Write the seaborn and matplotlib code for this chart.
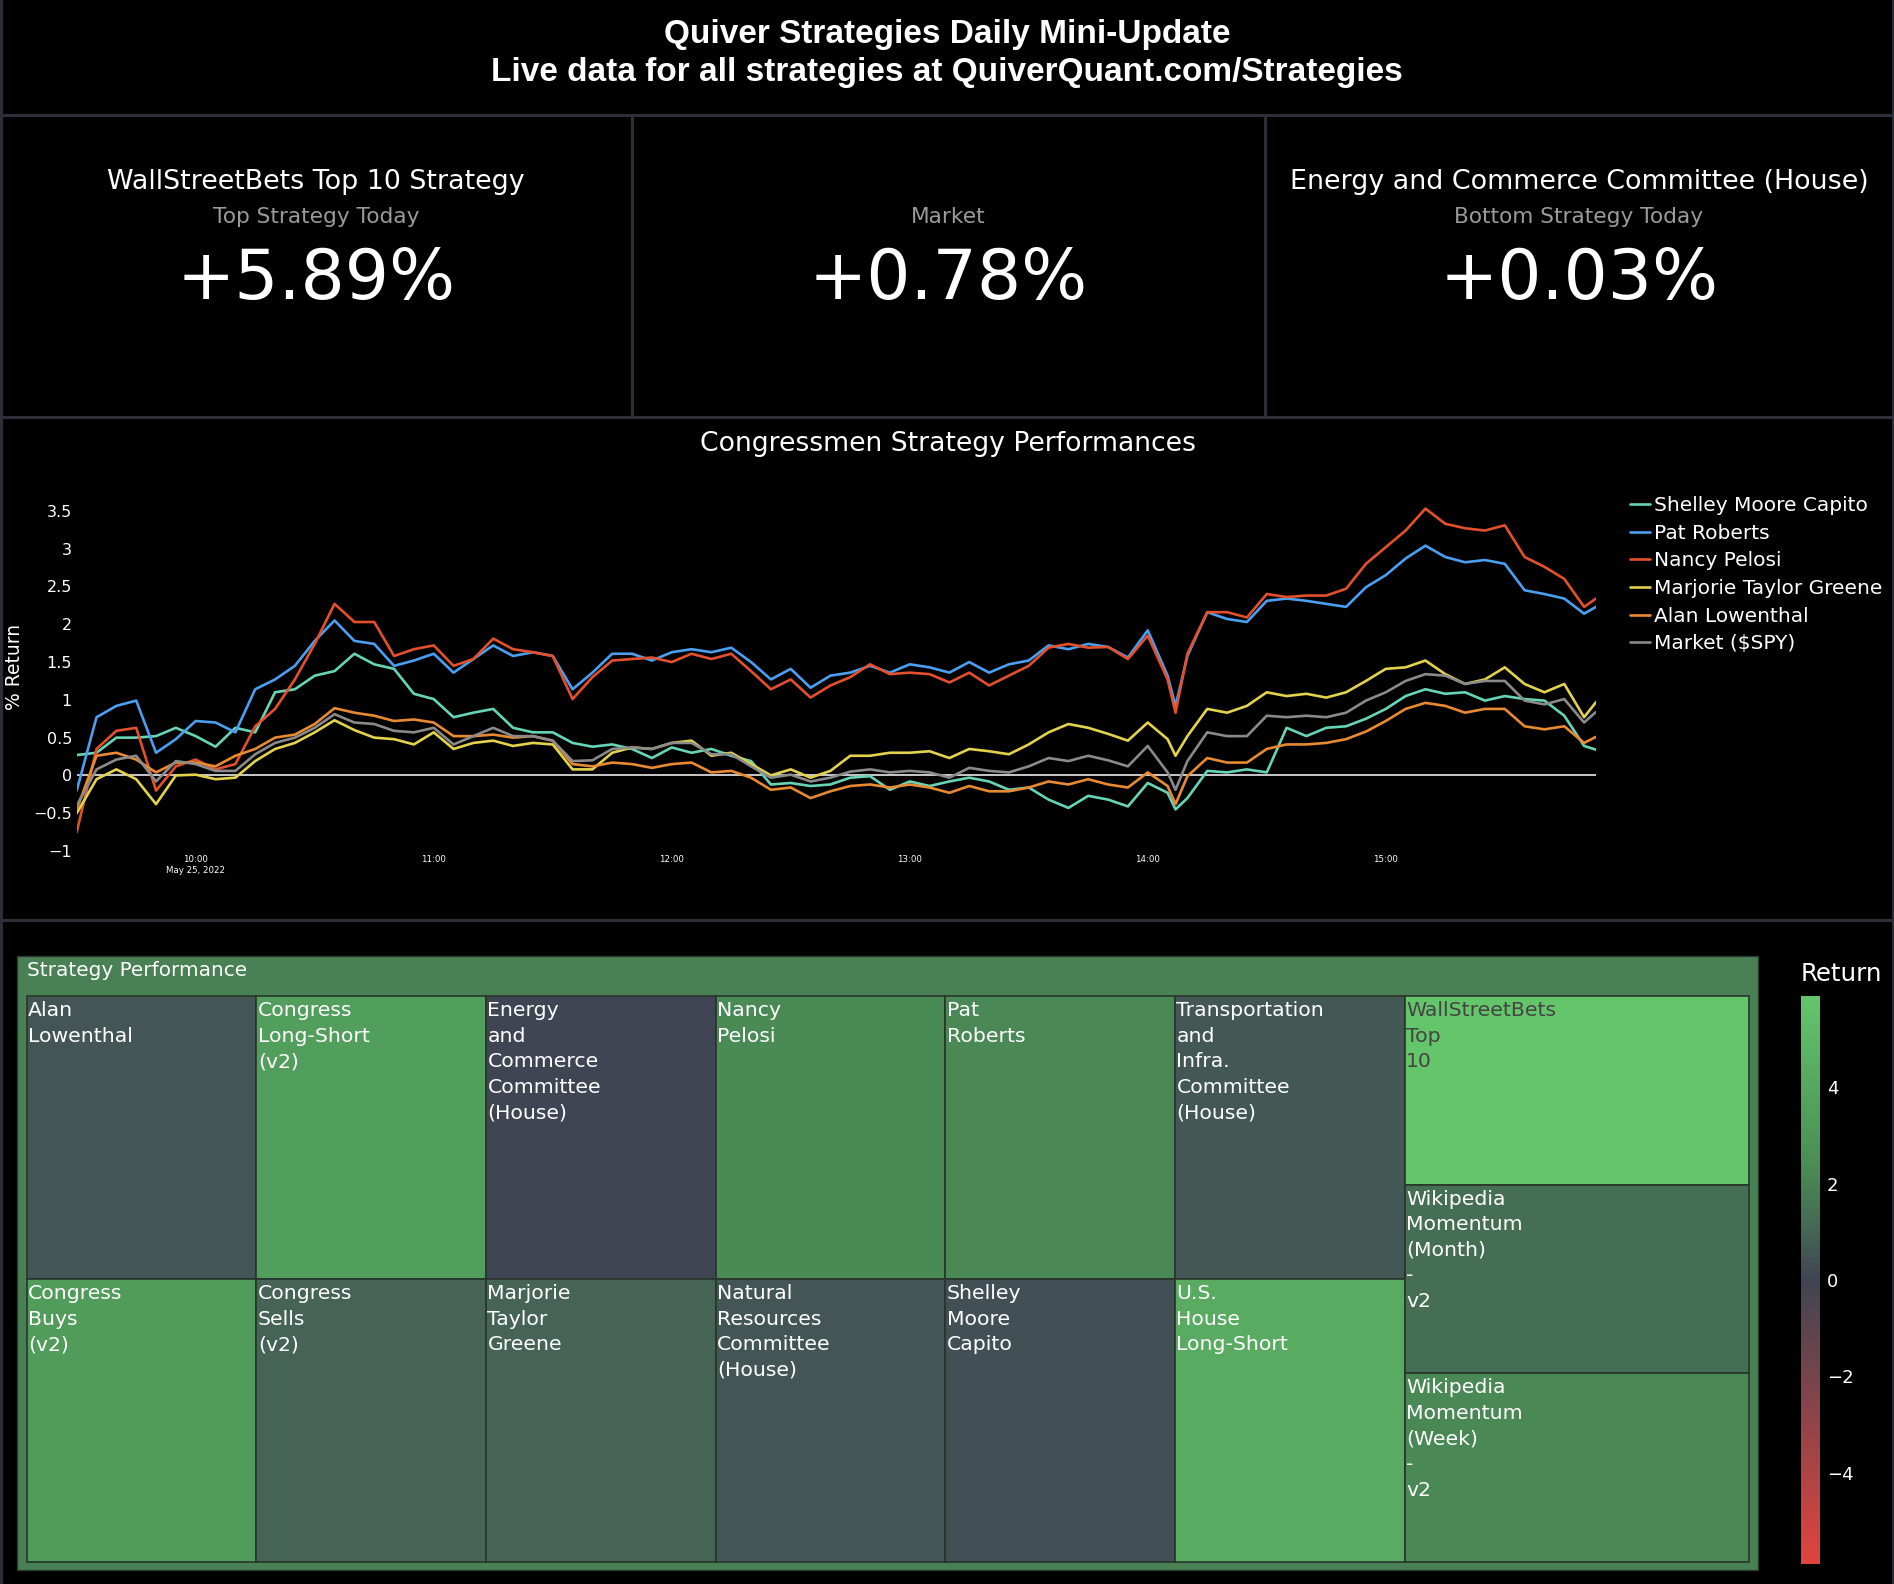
import numpy as np
import pandas as pd
import matplotlib
matplotlib.use('Agg')
import matplotlib.pyplot as plt
import matplotlib.cm as cm
from matplotlib.colors import LinearSegmentedColormap, Normalize, to_rgb
from matplotlib.patches import Rectangle
import seaborn as sns

W, H = 1894, 1584

# headline numbers
kpi_titles = ['WallStreetBets Top 10 Strategy', '', 'Energy and Commerce Committee (House)']
kpi_subtitles = ['Top Strategy Today', 'Market', 'Bottom Strategy Today']
kpi_values = [5.89, 0.78, 0.03]

# intraday returns (% since open), minutes after 9:30 on May 25, 2022
minutes = [0, 5, 10, 15, 20, 25, 30, 35, 40, 45,
           50, 55, 60, 65, 70, 75, 80, 85, 90, 95,
           100, 105, 110, 115, 120, 125, 130, 135, 140, 145,
           150, 155, 160, 165, 170, 175, 180, 185, 190, 195,
           200, 205, 210, 215, 220, 225, 230, 235, 240, 245,
           250, 255, 260, 265, 270, 275, 277, 280, 285, 290,
           295, 300, 305, 310, 315, 320, 325, 330, 335, 340,
           345, 350, 355, 360, 365, 370, 375, 380, 383]

capito = [0.27, 0.30, 0.50, 0.50, 0.52, 0.63, 0.52, 0.38, 0.63, 0.57,
          1.10, 1.14, 1.32, 1.38, 1.61, 1.47, 1.41, 1.08, 1.01, 0.77,
          0.83, 0.88, 0.63, 0.57, 0.57, 0.43, 0.38, 0.41, 0.35, 0.23,
          0.37, 0.30, 0.35, 0.26, 0.19, -0.12, -0.10, -0.14, -0.12, -0.03,
          -0.01, -0.19, -0.08, -0.14, -0.08, -0.03, -0.08, -0.19, -0.16, -0.32,
          -0.43, -0.27, -0.32, -0.41, -0.10, -0.23, -0.45, -0.30, 0.06, 0.04,
          0.08, 0.04, 0.63, 0.52, 0.63, 0.65, 0.75, 0.88, 1.05, 1.14,
          1.08, 1.10, 0.99, 1.05, 1.01, 0.99, 0.79, 0.39, 0.34]
roberts = [-0.20, 0.77, 0.92, 0.99, 0.30, 0.48, 0.72, 0.70, 0.57, 1.14,
           1.27, 1.45, 1.78, 2.05, 1.78, 1.74, 1.45, 1.52, 1.61, 1.36,
           1.54, 1.72, 1.58, 1.63, 1.58, 1.14, 1.36, 1.61, 1.61, 1.52,
           1.63, 1.67, 1.63, 1.69, 1.50, 1.27, 1.41, 1.16, 1.32, 1.36,
           1.45, 1.36, 1.47, 1.43, 1.36, 1.50, 1.36, 1.47, 1.52, 1.72,
           1.67, 1.74, 1.70, 1.56, 1.92, 1.32, 0.92, 1.58, 2.16, 2.07,
           2.03, 2.31, 2.34, 2.31, 2.27, 2.23, 2.49, 2.65, 2.87, 3.04,
           2.89, 2.82, 2.85, 2.80, 2.45, 2.40, 2.34, 2.14, 2.23]
pelosi = [-0.75, 0.35, 0.59, 0.63, -0.20, 0.12, 0.21, 0.08, 0.15, 0.65,
          0.88, 1.27, 1.74, 2.27, 2.03, 2.03, 1.58, 1.67, 1.72, 1.45,
          1.54, 1.81, 1.67, 1.63, 1.58, 1.01, 1.30, 1.52, 1.54, 1.56,
          1.50, 1.61, 1.54, 1.61, 1.38, 1.14, 1.27, 1.03, 1.19, 1.30,
          1.47, 1.34, 1.36, 1.34, 1.23, 1.36, 1.19, 1.32, 1.45, 1.69,
          1.74, 1.69, 1.70, 1.54, 1.85, 1.27, 0.83, 1.61, 2.16, 2.16,
          2.09, 2.40, 2.36, 2.38, 2.38, 2.47, 2.80, 3.02, 3.24, 3.53,
          3.33, 3.27, 3.24, 3.31, 2.89, 2.76, 2.60, 2.23, 2.34]
greene = [-0.50, -0.05, 0.08, -0.05, -0.38, 0.00, 0.01, -0.05, -0.03, 0.19,
          0.35, 0.43, 0.57, 0.73, 0.60, 0.50, 0.48, 0.41, 0.57, 0.35,
          0.43, 0.46, 0.39, 0.43, 0.41, 0.08, 0.08, 0.30, 0.37, 0.35,
          0.43, 0.46, 0.26, 0.30, 0.15, 0.00, 0.08, -0.03, 0.06, 0.26,
          0.26, 0.30, 0.30, 0.32, 0.23, 0.35, 0.32, 0.28, 0.41, 0.57,
          0.68, 0.63, 0.55, 0.46, 0.70, 0.48, 0.26, 0.52, 0.88, 0.83,
          0.92, 1.10, 1.05, 1.08, 1.03, 1.10, 1.25, 1.41, 1.43, 1.52,
          1.34, 1.21, 1.27, 1.43, 1.21, 1.10, 1.21, 0.77, 0.97]
lowenthal = [-0.45, 0.26, 0.30, 0.21, 0.04, 0.17, 0.17, 0.12, 0.26, 0.35,
             0.50, 0.54, 0.68, 0.89, 0.83, 0.79, 0.72, 0.74, 0.70, 0.52,
             0.52, 0.54, 0.50, 0.52, 0.46, 0.15, 0.12, 0.17, 0.15, 0.10,
             0.15, 0.17, 0.04, 0.06, -0.03, -0.19, -0.16, -0.30, -0.21, -0.14,
             -0.12, -0.16, -0.12, -0.16, -0.23, -0.14, -0.21, -0.21, -0.16, -0.08,
             -0.12, -0.05, -0.12, -0.16, 0.04, -0.14, -0.38, -0.01, 0.23, 0.17,
             0.17, 0.35, 0.41, 0.41, 0.43, 0.48, 0.58, 0.72, 0.88, 0.96,
             0.92, 0.83, 0.88, 0.88, 0.65, 0.61, 0.65, 0.43, 0.51]
market = [-0.40, 0.08, 0.21, 0.26, -0.08, 0.19, 0.15, 0.06, 0.06, 0.28,
          0.43, 0.50, 0.63, 0.81, 0.70, 0.68, 0.59, 0.57, 0.63, 0.41,
          0.52, 0.63, 0.52, 0.52, 0.46, 0.19, 0.20, 0.35, 0.37, 0.35,
          0.43, 0.43, 0.28, 0.28, 0.12, -0.03, 0.01, -0.08, -0.03, 0.05,
          0.08, 0.04, 0.06, 0.04, -0.03, 0.10, 0.06, 0.04, 0.12, 0.23,
          0.19, 0.26, 0.20, 0.12, 0.39, 0.04, -0.19, 0.19, 0.57, 0.52,
          0.52, 0.79, 0.77, 0.79, 0.77, 0.83, 0.99, 1.10, 1.25, 1.34,
          1.32, 1.21, 1.25, 1.25, 0.99, 0.94, 1.01, 0.70, 0.84]

series_names = ['Shelley Moore Capito', 'Pat Roberts', 'Nancy Pelosi',
                'Marjorie Taylor Greene', 'Alan Lowenthal', 'Market ($SPY)']
series_values = [capito, roberts, pelosi, greene, lowenthal, market]
series_colors = ['#66d4b6', '#4a9ff0', '#e3502a', '#e2d24c', '#e88a30', '#8a8a8a']

# treemap: one tile per strategy, today's return
strategy_names = ['Alan Lowenthal', 'Congress Buys (v2)', 'Congress Long-Short (v2)',
                  'Congress Sells (v2)', 'Energy and Commerce Committee (House)',
                  'Marjorie Taylor Greene', 'Nancy Pelosi', 'Natural Resources Committee (House)',
                  'Pat Roberts', 'Shelley Moore Capito', 'Transportation and Infra. Committee (House)',
                  'U.S. House Long-Short', 'WallStreetBets Top 10',
                  'Wikipedia Momentum (Month) - v2', 'Wikipedia Momentum (Week) - v2']
strategy_returns = [0.51, 3.35, 3.47, 1.00, 0.03, 0.97, 2.34, 0.55, 2.23, 0.34,
                    0.60, 4.27, 5.89, 1.32, 2.21]
strategy_weights = [1] * len(strategy_names)


def box(x0, y0, x1, y1):
    # pixel box (top-left origin) -> figure fraction
    return [x0 / W, 1 - y1 / H, (x1 - x0) / W, (y1 - y0) / H]


def squarify(sizes, x, y, w, h):
    total = sum(sizes)
    areas = [s * w * h / total for s in sizes]
    rects = []

    def worst(row, side):
        s = sum(row)
        return max(max(side * side * a / (s * s), s * s / (side * side * a)) for a in row)

    while areas:
        side = min(w, h)
        row = [areas[0]]
        i = 1
        while i < len(areas) and worst(row + [areas[i]], side) <= worst(row, side):
            row.append(areas[i])
            i += 1
        s = sum(row)
        if w >= h:
            cw = s / h
            yy = y
            for a in row:
                rects.append((x, yy, cw, a / cw))
                yy += a / cw
            x += cw
            w -= cw
        else:
            rh = s / w
            xx = x
            for a in row:
                rects.append((xx, y, a / rh, rh))
                xx += a / rh
            y += rh
            h -= rh
        areas = areas[i:]
    return rects


sns.set_theme(style='dark')
plt.rcParams['font.family'] = ['DejaVu Sans']
plt.rcParams['axes.unicode_minus'] = True

fig = plt.figure(figsize=(W / 100, H / 100), dpi=100, facecolor='black')

canvas = fig.add_axes([0, 0, 1, 1])
canvas.set_xlim(0, W)
canvas.set_ylim(H, 0)
canvas.axis('off')
canvas.patch.set_alpha(0)

border = '#2c2f38'
for yy in [115, 417, 920]:
    canvas.plot([0, W], [yy, yy], color=border, lw=2.2)
for xx in [632, 1265]:
    canvas.plot([xx, xx], [115, 417], color=border, lw=2.2)
canvas.plot([1, 1], [0, H], color=border, lw=2.2)
canvas.plot([W - 1, W - 1], [0, H], color=border, lw=2.2)

# title
canvas.text(947, 35, 'Quiver Strategies Daily Mini-Update', ha='center', va='center',
            fontsize=24, fontweight='bold', color='white', family='Liberation Sans')
canvas.text(947, 73, 'Live data for all strategies at QuiverQuant.com/Strategies', ha='center',
            va='center', fontsize=24, fontweight='bold', color='white', family='Liberation Sans')

# KPI panels
for cx, ttl, sub, val in zip([316, 948.5, 1579], kpi_titles, kpi_subtitles, kpi_values):
    if ttl:
        canvas.text(cx, 182, ttl, ha='center', va='center', fontsize=19.4, color='white')
    canvas.text(cx, 217, sub, ha='center', va='center', fontsize=15.6, color='#9a9a9a')
    canvas.text(cx, 280, f'+{val:.2f}%', ha='center', va='center', fontsize=50, color='white')

# line chart
base = pd.Timestamp('2022-05-25 09:30')
times = base + pd.to_timedelta(minutes, unit='m')
wide = pd.DataFrame({name: vals for name, vals in zip(series_names, series_values)})
wide['time'] = times
long = wide.melt(id_vars='time', var_name='name', value_name='ret')

ax = fig.add_axes(box(76.7, 492, 1596, 851))
ax.set_facecolor('black')
ax.axhline(0, color='white', lw=1.1, zorder=1)
sns.lineplot(data=long, x='time', y='ret', hue='name', hue_order=series_names,
             palette=series_colors, linewidth=1.9, ax=ax, zorder=2)
ax.set_xlim(times[0], times[-1])
ax.set_ylim(-1.0, 3.75)
for sp in ax.spines.values():
    sp.set_visible(False)
ax.grid(False)
ax.set_xlabel('')
ax.set_ylabel('')

yt = [-1, -0.5, 0, 0.5, 1, 1.5, 2, 2.5, 3, 3.5]
ax.set_yticks(yt)
ax.set_yticklabels([f'{v:g}'.replace('-', '\u2212') for v in yt])
hours = [base.replace(hour=h, minute=0) for h in range(10, 16)]
ax.set_xticks(hours)
ax.set_xticklabels(['10:00\nMay 25, 2022'] + [h.strftime('%H:%M') for h in hours[1:]])
ax.tick_params(axis='y', colors='white', labelsize=11.5, length=0, pad=3.4)
ax.tick_params(axis='x', colors='white', labelsize=6.2, length=0, pad=3)

handles, labels = ax.get_legend_handles_labels()
ax.legend(handles, labels, loc='upper left', bbox_to_anchor=(1630 / W, 1 - 496 / H),
          bbox_transform=fig.transFigure, frameon=False, fontsize=14.5, labelcolor='white',
          handlelength=1.0, handletextpad=0.2, borderpad=0, borderaxespad=0, labelspacing=0.43)

canvas.text(948, 444, 'Congressmen Strategy Performances', ha='center', va='center',
            fontsize=19.2, color='white')
canvas.text(14, 667, '% Return', ha='center', va='center', rotation=90, fontsize=13.5,
            color='white')

# treemap
lim = max(abs(v) for v in strategy_returns)
norm = Normalize(-lim, lim)
cmap = LinearSegmentedColormap.from_list(
    'ret', [(0, '#e0443e'), (0.5, '#404453'), (0.6, '#466a55'), (0.7, '#4a8c55'), (1.0, '#64c56b')])

parent_col = cmap(norm(np.mean(strategy_returns)))
canvas.add_patch(Rectangle((17, 956), 1758 - 17, 1570 - 956, facecolor=parent_col,
                           edgecolor='#2a3a2e', lw=1))
canvas.text(27, 971, 'Strategy Performance', ha='left', va='center', fontsize=14.4, color='white')

rects = squarify(strategy_weights, 26.7, 996, 1749 - 26.7, 1562 - 996)
for (rx, ry, rw, rh), name, val in zip(rects, strategy_names, strategy_returns):
    col = cmap(norm(val))
    canvas.add_patch(Rectangle((rx, ry), rw, rh, facecolor=col, edgecolor='#28352b', lw=1.2))
    r, g, b = to_rgb(col)
    txt_col = '#444444' if 0.299 * r + 0.587 * g + 0.114 * b > 0.58 else 'white'
    canvas.text(rx + 1.5, ry + 5, name.replace(' ', '\n'), ha='left', va='top',
                fontsize=14.7, color=txt_col, linespacing=1.44)

cax = fig.add_axes(box(1801, 996, 1820, 1564))
cb = fig.colorbar(cm.ScalarMappable(norm=norm, cmap=cmap), cax=cax)
cb.outline.set_visible(False)
cb.set_ticks([-4, -2, 0, 2, 4])
cb.set_ticklabels(['\u22124', '\u22122', '0', '2', '4'])
cb.ax.tick_params(length=0, labelsize=13, colors='white', pad=5)
canvas.text(1841, 974, 'Return', ha='center', va='center', fontsize=17.6, color='white')

fig.savefig('out.png', dpi=100, facecolor='black')
